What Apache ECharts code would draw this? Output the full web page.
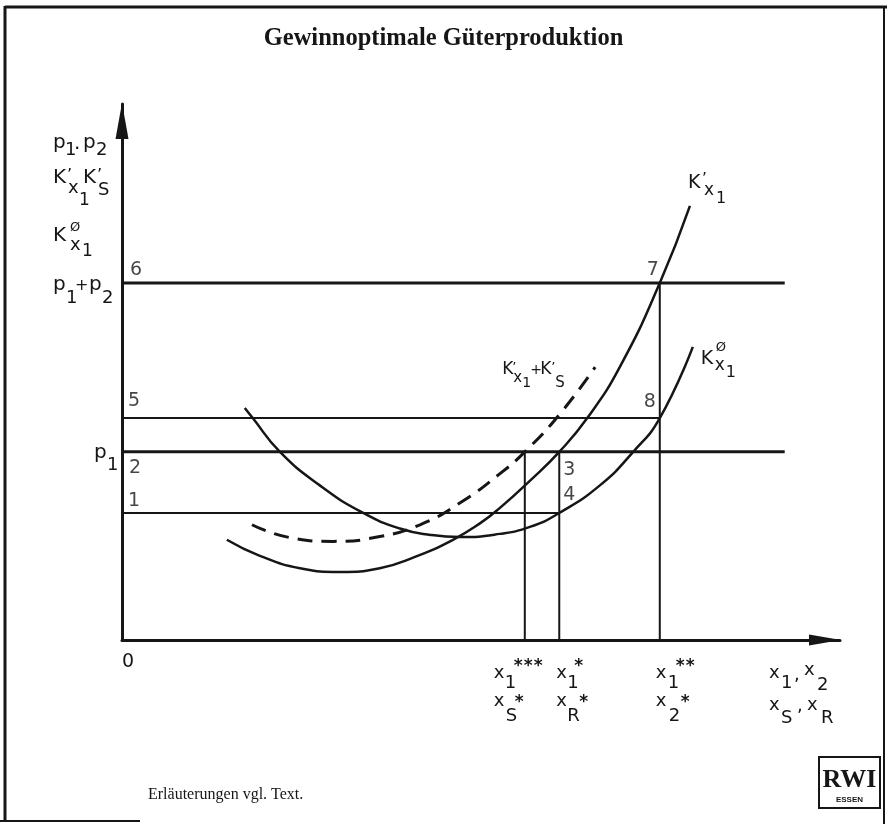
<!DOCTYPE html>
<html><head><meta charset="utf-8">
<script src="https://cdn.jsdelivr.net/npm/echarts@6/dist/echarts.min.js"></script>
<style>html,body{margin:0;padding:0;background:#fff}#c{width:887px;height:824px}</style>
</head><body><div id="c"></div>
<script>
// ---------- data (abstract units) ----------
// marginal cost K'x1
const mcX = [14.6, 19.2, 24.8, 30.4, 35.9, 40.8, 46.1, 49.9, 52.6, 56.8, 60.9, 64.8, 69.4, 74.9, 79.1];
const mcY = [18.7, 15.7, 13.4, 12.7, 13.4, 15.5, 18.7, 21.8, 24.6, 29.7, 35.1, 41.4, 51.1, 66.6, 81.0];
// average cost KØx1
const acX = [17.1, 18.1, 22.0, 27.6, 33.6, 38.7, 43.0, 47.1, 52.6, 56.8, 60.9, 66.6, 71.2, 74.9, 79.5];
const acY = [43.3, 41.6, 35.1, 28.8, 23.7, 20.8, 19.6, 19.2, 19.8, 21.1, 23.7, 28.9, 35.1, 41.4, 54.7];
// K'x1 + K'S (dashed)
const mdX = [18.1, 23.4, 29.4, 35.9, 41.5, 47.1, 52.6, 56.1, 61.0, 65.9];
const mdY = [21.5, 19.1, 18.4, 19.3, 21.5, 25.6, 31.0, 35.1, 42.2, 50.9];
// horizontal levels: p1+p2 (6-7), level 5-8, p1 (2-3), level 1-4
const levelY = [66.6, 41.4, 35.1, 23.7];
const levelEnd = [92.3, 74.9, 92.3, 60.9];
// vertical drops: xS*, xR*, x2*
const dropX = [56.1, 60.9, 74.9];
const dropTop = [35.1, 35.1, 66.6];
// numbered points
const pointNames = ['6', '5', '2', '1', '3', '4', '7', '8'];
const pointX = [0, 0, 0, 0, 60.9, 60.9, 74.9, 74.9];
const pointY = [66.6, 41.4, 35.1, 23.7, 35.1, 23.7, 66.6, 41.4];
const titleText = 'Gewinnoptimale Güterproduktion';
const noteText = 'Erläuterungen vgl. Text.';

// ---------- chart ----------
const INK = '#161616';
const FONT = '"DejaVu Sans"';
const chart = echarts.init(document.getElementById('c'), null, {renderer: 'canvas'});
const pair = (xs, ys) => xs.map((x, i) => [x, ys[i]]);

const series = [];
series.push({type: 'line', data: pair(mcX, mcY), smooth: 0.5, showSymbol: false, silent: true,
  lineStyle: {color: INK, width: 2.5}, z: 4});
series.push({type: 'line', data: pair(acX, acY), smooth: 0.5, showSymbol: false, silent: true,
  lineStyle: {color: INK, width: 2.5}, z: 4});
series.push({type: 'line', data: pair(mdX, mdY), smooth: 0.5, showSymbol: false, silent: true,
  lineStyle: {color: INK, width: 3, type: [15, 9]}, z: 4});
levelY.forEach((y, i) => series.push({type: 'line', data: [[0, y], [levelEnd[i], y]], showSymbol: false, silent: true,
  lineStyle: {color: INK, width: i % 2 === 0 ? 3 : 2}, z: 3}));
dropX.forEach((x, i) => series.push({type: 'line', data: [[x, 0], [x, dropTop[i]]], showSymbol: false, silent: true,
  lineStyle: {color: INK, width: 2}, z: 3}));
const pointOffsets = [[14, -13], [12, -17], [13, 16], [12, -12], [10, 18], [10, -18], [-7, -13], [-10, -16]];
series.push({type: 'scatter', symbolSize: 1, silent: true, itemStyle: {color: 'rgba(0,0,0,0)'},
  data: pointX.map((x, i) => ({value: [x, pointY[i]], name: pointNames[i],
    label: {offset: pointOffsets[i]}})),
  label: {show: true, position: 'inside', formatter: p => p.name, color: INK,
    fontFamily: 'DejaVu Sans', fontSize: 19}, z: 5});

const axisCommon = {type: 'value', min: 0, max: 100, splitLine: {show: false}, axisTick: {show: false},
  axisLabel: {show: false}};
chart.setOption({
  animation: false,
  backgroundColor: '#fff',
  grid: {left: 122, top: 104, width: 718, height: 536, outerBoundsMode: 'none'},
  xAxis: Object.assign({}, axisCommon, {axisLine: {show: true, symbol: ['none', 'triangle'], symbolSize: [11, 32],
    symbolOffset: [0, -15], lineStyle: {color: INK, width: 3}}}),
  yAxis: Object.assign({}, axisCommon, {axisLine: {show: true, symbol: ['none', 'triangle'], symbolSize: [13, 36],
    symbolOffset: [0, -17], lineStyle: {color: INK, width: 3}}}),
  series
});

const px = (x, y) => chart.convertToPixel({gridIndex: 0}, [x, y]);
function glyphs(anchor, list) {
  return list.map(([t, dx, dy, size, bold]) => ({
    type: 'text', silent: true, x: anchor[0] + dx, y: anchor[1] + dy - 0.35 * size,
    style: {text: t, fill: INK, font: (bold ? 'bold ' : '') + size + 'px ' + FONT,
      textAlign: 'left', textVerticalAlign: 'middle'}
  }));
}
const g = [];
// y-axis name
g.push(...glyphs(px(0, 100), [
  ['p', -69, 46, 20], ['1', -57, 53, 18], ['.', -48, 47, 20], ['p', -39, 46, 20], ['2', -26, 53, 18],
  ['K', -69, 81, 20], ['’', -55, 77, 16], ['x', -54, 91, 18], ['1', -43, 103, 17],
  ['K', -39, 81, 20], ['’', -25, 77, 16], ['S', -24, 93, 18],
  ['K', -69, 139, 20], ['Ø', -52, 128, 13], ['x', -52, 148, 18], ['1', -40, 154, 17]
]));
// p1 + p2
g.push(...glyphs(px(0, levelY[0]), [
  ['p', -69, 9, 20], ['1', -56, 22, 18], ['+', -47, 8, 16], ['p', -33, 9, 20], ['2', -20, 22, 18]
]));
// p1
g.push(...glyphs(px(0, levelY[2]), [['p', -28, 8, 20], ['1', -15, 20, 18]]));
// origin
g.push(...glyphs(px(0, 0), [['0', 0, 29, 19]]));
// x labels
g.push(...glyphs(px(dropX[0], 0), [
  ['x', -31, 40, 18], ['1', -20, 50, 18], ['*', -11, 33, 17, 1], ['*', -1, 33, 17, 1], ['*', 9, 33, 17, 1],
  ['x', -31, 68, 18], ['S', -19, 83, 18], ['*', -10, 69, 17, 1]
]));
g.push(...glyphs(px(dropX[1], 0), [
  ['x', -3, 40, 18], ['1', 8, 50, 18], ['*', 15, 33, 17, 1],
  ['x', -3, 68, 18], ['R', 8, 83, 18], ['*', 20, 69, 17, 1]
]));
g.push(...glyphs(px(dropX[2], 0), [
  ['x', -4, 40, 18], ['1', 8, 50, 18], ['*', 16, 33, 17, 1], ['*', 26, 33, 17, 1],
  ['x', -4, 68, 18], ['2', 9, 83, 18], ['*', 21, 69, 17, 1]
]));
// x-axis name
g.push(...glyphs(px(100, 0), [
  ['x', -71, 40, 18], ['1', -59, 50, 18], [',', -46, 42, 18], ['x', -36, 37, 18], ['2', -23, 52, 18],
  ['x', -71, 72, 18], ['S', -59, 85, 18], [',', -43, 73, 18], ['x', -33, 72, 18], ['R', -19, 85, 18]
]));
// curve labels
const mcEnd = px(mcX[mcX.length - 1], mcY[mcY.length - 1]);
g.push(...glyphs(mcEnd, [['K', -2, -16, 19], ['’', 12, -20, 15], ['x', 14, -9, 17], ['1', 26, -1, 16]]));
const acEnd = px(acX[acX.length - 1], acY[acY.length - 1]);
g.push(...glyphs(acEnd, [['K', 8, 19, 19], ['Ø', 23, 5, 13], ['x', 22, 25, 17], ['1', 33, 32, 16]]));
const mdEnd = px(mdX[mdX.length - 1], mdY[mdY.length - 1]);
g.push(...glyphs(mdEnd, [
  ['K', -93, 8, 17], ['’', -83, 5, 13], ['x', -82, 16, 15], ['1', -73, 21, 14], ['+', -65, 8, 14],
  ['K', -55, 8, 17], ['’', -44, 5, 13], ['S', -40, 21, 15]
]));
// title, note, logo, frame
g.push({type: 'text', silent: true, x: 443.5, y: 39,
  style: {text: titleText, fill: INK, font: 'bold 24.5px "Liberation Serif"', textAlign: 'center', textVerticalAlign: 'middle'}});
g.push({type: 'text', silent: true, x: 148, y: 795,
  style: {text: noteText, fill: INK, font: '16px "Liberation Serif"', textAlign: 'left', textVerticalAlign: 'middle'}});
g.push({type: 'rect', silent: true, shape: {x: 819, y: 757, width: 61, height: 51},
  style: {fill: 'none', stroke: INK, lineWidth: 2}});
g.push({type: 'text', silent: true, x: 849.5, y: 780,
  style: {text: 'RWI', fill: INK, font: 'bold 26px "Liberation Serif"', textAlign: 'center', textVerticalAlign: 'middle'}});
g.push({type: 'text', silent: true, x: 849.5, y: 800,
  style: {text: 'ESSEN', fill: INK, font: 'bold 8px "Liberation Sans"', textAlign: 'center', textVerticalAlign: 'middle'}});
const frame = [[5, 7, 887, 7, 3], [5, 6, 5, 821, 3], [884, 6, 884, 824, 2], [0, 821, 140, 821, 2]];
frame.forEach(([x1, y1, x2, y2, w]) => g.push({type: 'line', silent: true, shape: {x1, y1, x2, y2},
  style: {stroke: INK, lineWidth: w}}));
chart.setOption({graphic: {elements: g}});
</script></body></html>
